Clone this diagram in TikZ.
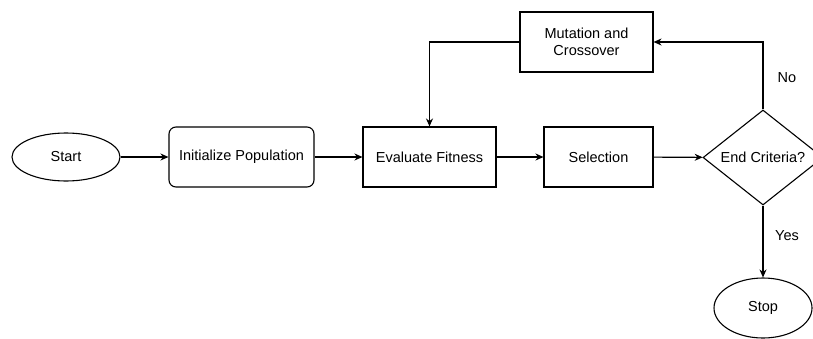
\documentclass[tikz,border=0pt]{standalone}
\usepackage{fontspec}
\setmainfont{Liberation Sans}
\usetikzlibrary{shapes.geometric,arrows.meta}
\begin{document}
\begin{tikzpicture}[x=1pt,y=-1pt,line width=1.1pt,
  every node/.style={font=\fontsize{14.5}{17.5}\selectfont},
  ell/.style={ellipse, draw, inner sep=0pt},
  box/.style={rectangle, draw, inner sep=0pt, minimum height=60pt, align=center},
  arr/.style={-{Stealth[length=8pt,width=7pt]}}]
\useasboundingbox (0,0) rectangle (813,338);
\clip (0,0) rectangle (813,338);
\node[ell, minimum width=108pt, minimum height=48pt] (start) at (66,157){Start};
\node[box, rounded corners=7pt, minimum width=145pt] (init) at (241.5,157){Initialize Population};
\node[box, minimum width=133pt] (eval) at (429.5,157){Evaluate Fitness};
\node[box, minimum width=109pt] (sel) at (598.5,157){Selection};
\node[diamond, draw, inner sep=0pt, minimum width=120pt, minimum height=95pt, aspect=1.26] (crit) at (763,157.5){End Criteria?};
\node[box, minimum width=133pt] (mut) at (586.5,42){Mutation and\\Crossover};
\node[ell, minimum width=98pt, minimum height=60pt] (stop) at (763,308){Stop};
\draw[arr](start) -- (init);
\draw[arr](init) -- (eval);
\draw[arr](eval) -- (sel);
\draw[arr](sel) -- (crit);
\draw[arr](crit.north) |- (mut.east);
\draw[arr](mut.west) -| (eval.north);
\draw[arr](crit.south) -- (stop);
\node (no) at (787,78){No};
\node (yes) at (787,236){Yes};
\end{tikzpicture}
\end{document}
